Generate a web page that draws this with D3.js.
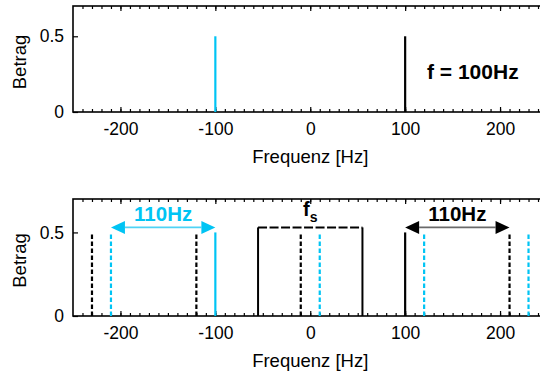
<!DOCTYPE html>
<html>
<head>
<meta charset="utf-8">
<script src="https://cdn.jsdelivr.net/npm/d3@7"></script>
<style>
  body { margin: 0; background: #fff; }
  text { font-family: "Liberation Sans", Arial, sans-serif; }
</style>
</head>
<body>
<div class="main"></div>
<script>
const svgWidth = 540,
    svgHeight = 375,
    cyan = "#00c4f4";

// data
const majorTicks = [-200, -100, 0, 100, 200],
    minorTicks = d3.range(-240, 250, 10),
    yTicks = [0, 0.5],
    xDomain = [-250, 250],
    yDomain = [0, 0.7];

// original signal (top panel and solid lines bottom)
const origFreq = [-100, 100],
    origAmp = [0.5, 0.5],
    origColor = ["cyan", "black"];

// aliases after sampling with fs = 110 Hz
const aliasBlack = [-230, -120, -10, 210],
    aliasCyan = [-210, 10, 120, 230],
    aliasAmp = 0.5;

const fsBand = [-55, 55],
    fsLevel = 0.53;

const arrowFrom = [-210, 100],
    arrowTo = [-100, 210],
    arrowLabel = ["110Hz", "110Hz"],
    arrowLevel = 0.53;

let svg = d3.select("body>.main").append("svg")
    .attr("width", svgWidth)
    .attr("height", svgHeight);

let x = d3.scaleLinear().domain(xDomain).range([73, 547.5]);

function colorOf(c) { return c === "cyan" ? cyan : "#000"; }

function panel(y) {
  let g = svg.append("g");

  // frame
  g.append("rect")
      .attr("x", x(xDomain[0]))
      .attr("y", y(yDomain[1]))
      .attr("width", x(xDomain[1]) - x(xDomain[0]))
      .attr("height", y(yDomain[0]) - y(yDomain[1]))
      .style("fill", "none")
      .style("stroke", "#000")
      .style("stroke-width", 1.6);

  // bottom axis
  g.append("g")
      .attr("transform", "translate(0," + y(0) + ")")
      .call(d3.axisBottom(x).tickValues(majorTicks).tickSize(-5).tickSizeOuter(0).tickPadding(11)
        .tickFormat(d => String(d)));
  g.append("g")
      .attr("transform", "translate(0," + y(0) + ")")
      .call(d3.axisBottom(x).tickValues(minorTicks).tickSize(-3).tickSizeOuter(0).tickFormat(""));

  // top axis (mirror ticks)
  g.append("g")
      .attr("transform", "translate(0," + y(yDomain[1]) + ")")
      .call(d3.axisTop(x).tickValues(majorTicks).tickSize(-5).tickSizeOuter(0).tickFormat(""));
  g.append("g")
      .attr("transform", "translate(0," + y(yDomain[1]) + ")")
      .call(d3.axisTop(x).tickValues(minorTicks).tickSize(-3).tickSizeOuter(0).tickFormat(""));

  // left axis
  g.append("g")
      .attr("transform", "translate(" + x(xDomain[0]) + ",0)")
      .call(d3.axisLeft(y).tickValues(yTicks).tickSize(-5).tickSizeOuter(0).tickPadding(9)
        .tickFormat(d => d === 0 ? "0" : "0.5"));

  g.selectAll(".domain").remove();
  g.selectAll(".tick line").style("stroke-width", 1.2);
  g.selectAll(".tick text")
      .attr("font-family", "Liberation Sans, Arial, sans-serif")
      .attr("font-size", 17.5)
      .attr("fill", "#000");

  // axis titles
  g.append("text")
      .attr("x", x(0))
      .attr("y", y(0) + 51)
      .attr("text-anchor", "middle")
      .style("font-size", "18.5px")
      .text("Frequenz [Hz]");

  let mid = (y(0) + y(yDomain[1])) / 2 + 3;
  g.append("text")
      .attr("transform", "translate(26," + mid + ") rotate(-90)")
      .attr("text-anchor", "middle")
      .style("font-size", "18.5px")
      .text("Betrag");

  return g;
}

function stem(g, y, f, a, color, dashed) {
  g.append("line")
      .attr("x1", x(f)).attr("x2", x(f))
      .attr("y1", y(0)).attr("y2", y(a))
      .style("stroke", color)
      .style("stroke-width", 2.2)
      .style("stroke-dasharray", dashed ? "4.5,2.5" : null);
}

// ---- top panel
let yTop = d3.scaleLinear().domain(yDomain).range([112, 6]);
let topPanel = panel(yTop);
origFreq.forEach((f, i) => stem(topPanel, yTop, f, origAmp[i], colorOf(origColor[i]), false));

topPanel.append("text")
    .attr("x", 427)
    .attr("y", yTop(0.215))
    .style("font-size", "21px")
    .style("font-weight", "bold")
    .text("f = 100Hz");

// ---- bottom panel
let yBot = d3.scaleLinear().domain(yDomain).range([316, 199]);
let botPanel = panel(yBot);

// fs band
botPanel.append("path")
    .attr("d", "M" + x(fsBand[0]) + "," + yBot(0) + "V" + yBot(fsLevel))
    .style("fill", "none").style("stroke", "#000").style("stroke-width", 2);
botPanel.append("path")
    .attr("d", "M" + x(fsBand[1]) + "," + yBot(0) + "V" + yBot(fsLevel))
    .style("fill", "none").style("stroke", "#000").style("stroke-width", 2);
botPanel.append("path")
    .attr("d", "M" + x(fsBand[0]) + "," + yBot(fsLevel) + "H" + x(fsBand[1]))
    .style("fill", "none").style("stroke", "#000").style("stroke-width", 2)
    .style("stroke-dasharray", "9,2.5");

let fsLabel = botPanel.append("text")
    .attr("x", x(0))
    .attr("y", yBot(fsLevel) - 11)
    .attr("text-anchor", "middle")
    .style("font-weight", "bold")
    .style("font-size", "20px");
fsLabel.append("tspan").text("f");
fsLabel.append("tspan").attr("dy", 6).style("font-size", "14px").text("s");

aliasBlack.forEach(f => stem(botPanel, yBot, f, aliasAmp, "#000", true));
aliasCyan.forEach(f => stem(botPanel, yBot, f, aliasAmp, cyan, true));
origFreq.forEach((f, i) => stem(botPanel, yBot, f, origAmp[i], colorOf(origColor[i]), false));

// arrows
const headLen = 14, headHalf = 6.5;
arrowFrom.forEach(function(f0, i) {
  let f1 = arrowTo[i],
      x0 = x(f0), x1 = x(f1), ya = yBot(arrowLevel),
      col = i === 0 ? cyan : "#000",
      lineCol = i === 0 ? "#4fd3f5" : "#6a6a6a";
  botPanel.append("line")
      .attr("x1", x0 + headLen).attr("x2", x1 - headLen)
      .attr("y1", ya).attr("y2", ya)
      .style("stroke", lineCol).style("stroke-width", 1.8);
  botPanel.append("path")
      .attr("d", "M" + x0 + "," + ya + "L" + (x0 + headLen) + "," + (ya - headHalf) + "L" + (x0 + headLen) + "," + (ya + headHalf) + "Z")
      .style("fill", col);
  botPanel.append("path")
      .attr("d", "M" + x1 + "," + ya + "L" + (x1 - headLen) + "," + (ya - headHalf) + "L" + (x1 - headLen) + "," + (ya + headHalf) + "Z")
      .style("fill", col);
  botPanel.append("text")
      .attr("x", (x0 + x1) / 2)
      .attr("y", ya - 6)
      .attr("text-anchor", "middle")
      .style("font-weight", "bold")
      .style("font-size", "20.5px")
      .style("fill", col)
      .text(arrowLabel[i]);
});
</script>
</body>
</html>
